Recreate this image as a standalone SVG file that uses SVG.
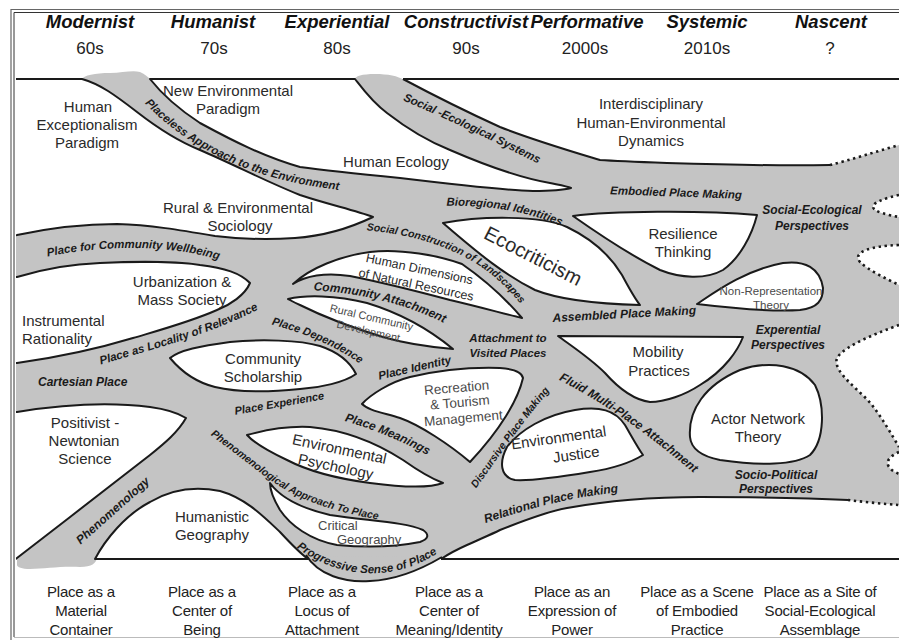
<svg xmlns="http://www.w3.org/2000/svg" width="899" height="640" viewBox="0 0 899 640">
<style>
.hd{font-family:"Liberation Sans",Arial,sans-serif;font-style:italic;font-weight:bold;font-size:18.5px;text-anchor:middle;fill:#111}
.yr{font-family:"Liberation Sans",Arial,sans-serif;font-size:17px;text-anchor:middle;fill:#222}
.ft{font-family:"Liberation Sans",Arial,sans-serif;font-size:15px;letter-spacing:-0.2px;text-anchor:middle;fill:#222}
.rg{font-family:"Liberation Sans",Arial,sans-serif;font-size:15px;text-anchor:middle;fill:#2a2a2a}
.gr{font-family:"Liberation Sans",Arial,sans-serif;text-anchor:middle;fill:#4a4a4a}
.bi{font-family:"Liberation Sans",Arial,sans-serif;font-style:italic;font-weight:bold;font-size:11.5px;fill:#1a1a1a}
.bc{text-anchor:middle}
.isl{fill:#fff;stroke:#1a1a1a;stroke-width:2;stroke-linejoin:round}
.wf{fill:#fff;stroke:none}
.ln{fill:none;stroke:#1a1a1a;stroke-width:2;stroke-linejoin:round}
.dot{fill:none;stroke:#1a1a1a;stroke-width:2.6;stroke-dasharray:2.4 3.6}
.gy{fill:#c4c4c4}
</style>
<defs>
<clipPath id="clipField"><rect x="16" y="0" width="890" height="640"/></clipPath>
<path id="pPlaceless" d="M 140,98 C 165,126 200,150 240,166 S 310,186 346,191"/>
<path id="pSES" d="M 400,99 C 445,118 495,142 541,165"/>
<path id="pBio" d="M 441,206 C 480,205 520,208 566,228"/>
<path id="pSCL" d="M 364,230 C 420,235 482,252 522,306"/>
<path id="pPCW" d="M 40,258 C 100,245 170,243 226,262"/>
<path id="pPLR" d="M 96,366 C 150,350 210,335 263,307"/>
<path id="pPD" d="M 273,325 C 300,332 330,343 359,363"/>
<path id="pCA" d="M 307,290 C 350,292 400,300 450,326"/>
<path id="pPI" d="M 378,380 L 453,363"/>
<path id="pAPM" d="M 551,322 L 698,314"/>
<path id="pFMA" d="M 555,378 C 600,400 650,435 697,476"/>
<path id="pDPM" d="M 475,490 C 495,462 520,425 551,389"/>
<path id="pPE" d="M 234,415 L 326,399"/>
<path id="pPM" d="M 341,420 C 370,428 400,440 431,457"/>
<path id="pPAP" d="M 203,430 C 240,455 265,480 295,495 C 320,507 350,515 387,521"/>
<path id="pPSP" d="M 293,545 C 320,566 350,575 380,573 C 405,571 425,562 441,551"/>
<path id="pRPM" d="M 483,524 C 530,508 570,497 621,492"/>
<path id="pPhen" d="M 78,547 L 153,480"/>
<path id="pEPM" d="M 605,194 L 747,199"/>
</defs>

<!-- outer frame -->
<g id="frame" fill="none">
<path d="M 11,640 V 9.5 H 899" stroke="#666" stroke-width="1.2"/>
<path d="M 14,637 V 12.5 H 899" stroke="#333" stroke-width="1"/>
<path d="M 14,637.5 H 899" stroke="#bbb" stroke-width="1.2"/>
</g>

<!-- column headings -->
<g id="headings">
<text class="hd" x="90" y="28">Modernist</text>
<text class="hd" x="213" y="28">Humanist</text>
<text class="hd" x="337" y="28">Experiential</text>
<text class="hd" x="466" y="28">Constructivist</text>
<text class="hd" x="587" y="28">Performative</text>
<text class="hd" x="707" y="28">Systemic</text>
<text class="hd" x="831" y="28">Nascent</text>
<text class="yr" x="90" y="54">60s</text>
<text class="yr" x="214" y="54">70s</text>
<text class="yr" x="337" y="54">80s</text>
<text class="yr" x="466" y="54">90s</text>
<text class="yr" x="585" y="54">2000s</text>
<text class="yr" x="707" y="54">2010s</text>
<text class="yr" x="830" y="54">?</text>
</g>

<!-- the gray field of place approaches with its white islands -->
<g id="field" clip-path="url(#clipField)">
<rect class="gy" x="14" y="79" width="890" height="480"/>
<path class="gy" d="M 81,80 C 84,75 95,73 110,73 C 122,73 132,70 140,72 C 145,74 148,77 151,80 Z"/>
<path class="gy" d="M 354,80 C 355,76 362,74 375,74 C 388,74 398,76 404,80 Z"/>
<path class="gy" d="M 17,558 L 97,558 C 96,563 92,567 80,567 C 60,566 45,569 30,569 C 22,569 17,567 17,565 Z"/>
<path class="gy" d="M 306,556 C 318,575 345,583 370,581 C 395,580 420,570 442,557 Z"/>
<path class="ln" d="M 306,555 C 318,575 345,583 370,581 C 395,580 420,570 442,557"/>

<g id="humanExceptionalism"><path class="isl" d="M -5,79 L 82,79 C 100,84 115,95 137,112 C 155,126 175,140 200,150 C 235,165 265,181 300,195 C 330,205 355,210 373,217 C 350,228 325,236 295,238 C 265,240 240,239 215,236 C 180,230 150,225 117,224 C 80,224 45,229 17,235 L -5,238 Z"/></g>
<g id="humanEcology"><path class="isl" d="M 150,79 L 355,79 C 362,88 372,102 387,113 C 405,127 425,140 450,150 C 480,163 515,177 550,183 C 560,185 567,186 571,188 C 560,191 545,191 533,191 C 500,190 450,184 400,178 C 360,174 330,171 300,167 C 265,157 235,142 200,123 C 180,110 165,98 150,79 Z"/></g>
<g id="interdisciplinary">
<path class="wf" d="M 403,79 L 905,79 L 905,144 L 899,145 C 875,152 850,160 830,165 C 780,166 700,164 667,163 C 640,162 615,161 600,160 C 567,150 533,140 500,127 C 467,112 433,95 403,79 Z"/>
<path class="ln" d="M 403,79 C 433,95 467,112 500,127 C 533,140 567,150 600,160 C 615,161 640,162 667,163 C 700,164 780,166 830,165"/>
<path class="dot" d="M 830,165 C 850,160 875,152 899,145"/>
</g>
<g id="urbanization"><path class="isl" d="M -5,276 L 17,277 C 40,270 70,264 100,263 C 140,261 180,262 200,265 C 225,268 240,273 250,283 C 245,295 230,305 217,310 C 190,322 160,330 133,338 C 100,348 60,357 17,363 L -5,364 Z"/></g>
<g id="positivist"><path class="isl" d="M -5,412 L 17,412 C 60,405 110,402 150,407 C 165,409 178,413 186,418 C 178,432 165,443 150,455 C 120,478 60,525 17,558 L -5,575 Z"/></g>
<g id="humanisticGeography"><path class="isl" d="M 95,559 C 105,540 125,515 150,502 C 170,490 195,486 220,491 C 245,498 262,515 280,532 C 292,545 300,553 308,559 Z"/></g>
<g id="relationalBelow">
<path class="wf" d="M 442,559 C 450,553 458,549 467,545 C 480,539 490,535 500,530 C 520,522 545,512 567,508 C 600,502 650,497 700,497 C 760,497 810,498 848,500 C 865,502 885,504 899,505 L 905,505 L 905,559 Z"/>
<path class="ln" d="M 441,559 C 450,553 458,549 467,545 C 480,539 490,535 500,530 C 520,522 545,512 567,508 C 600,502 650,497 700,497 C 760,497 810,498 848,500"/>
<path class="dot" d="M 848,500 C 865,502 885,504 899,505"/>
</g>
<g id="communityScholarship"><path class="isl" d="M 170,358 C 180,350 200,346 230,342 C 260,339 300,340 320,346 C 338,352 350,362 356,374 C 345,382 320,388 300,389 C 270,392 240,393 215,387 C 195,382 180,370 170,358 Z"/></g>
<g id="humanDimensions"><path class="isl" d="M 293,284 C 310,268 340,256 370,252 C 400,248 440,256 462,264 C 485,280 505,298 522,318 C 505,314 480,307 450,300 C 420,292 390,284 350,276 C 325,272 305,276 293,284 Z"/></g>
<g id="ruralCommunity"><path class="isl" d="M 288,299 C 305,295 335,295 367,303 C 400,313 430,330 453,349 C 430,347 400,342 383,337 C 350,327 320,315 300,305 C 293,302 290,300 288,299 Z"/></g>
<g id="environmentalPsychology"><path class="isl" d="M 247,435 C 265,430 290,426 310,427 C 345,430 375,442 403,460 C 420,472 435,480 443,483 C 430,488 400,487 370,483 C 340,479 310,472 287,460 C 270,452 255,444 247,435 Z"/></g>
<g id="criticalGeography"><path class="isl" d="M 270,483 C 280,497 300,508 330,515 C 370,521 405,522 423,530 C 430,535 428,539 420,542 C 400,546 370,548 337,545 C 310,540 290,525 280,510 C 274,500 270,490 270,483 Z"/></g>
<g id="recreationTourism"><path class="isl" d="M 362,404 C 370,395 390,382 410,377 C 440,370 470,367 500,368 C 515,369 522,372 523,378 C 518,400 500,430 470,462 C 450,445 420,425 400,418 C 380,412 368,410 362,404 Z"/></g>
<g id="environmentalJustice"><path class="isl" d="M 507,447 C 520,430 545,415 575,410 C 600,406 615,410 625,425 C 632,437 638,448 643,455 C 630,463 610,469 590,472 C 560,477 530,481 515,480 C 500,477 499,462 507,447 Z"/></g>
<g id="mobilityPractices"><path class="isl" d="M 558,336 L 743,337 C 738,350 725,370 700,385 C 685,395 665,402 650,402 C 635,400 620,390 605,373 C 590,358 570,345 558,336 Z"/></g>
<g id="resilienceThinking"><path class="isl" d="M 573,216 C 610,211 700,210 757,215 C 752,235 740,258 723,270 C 705,280 680,278 660,270 C 630,255 600,235 573,216 Z"/></g>
<g id="ecocriticism"><path class="isl" d="M 443,223 C 480,216 540,215 567,227 C 590,238 610,255 622,275 C 630,290 636,300 640,305 C 600,304 560,300 535,290 C 505,275 480,255 443,223 Z"/></g>
<g id="nonRepresentation"><path class="isl" d="M 697,304 C 715,292 745,270 783,263 C 805,260 820,268 823,288 C 823,300 818,308 800,310 C 770,312 730,308 697,304 Z"/></g>
<g id="actorNetwork"><path class="isl" d="M 690,437 C 688,410 705,385 740,370 C 770,360 800,365 815,385 C 825,405 825,440 810,455 C 795,465 760,466 720,460 C 700,456 691,448 690,437 Z"/></g>
<g id="nascentEdges">
<path class="wf" d="M 905,194 L 899,195 C 885,198 872,203 873,207 C 874,212 888,215 899,217 L 905,217 Z"/>
<path class="dot" d="M 899,195 C 885,198 872,203 873,207 C 874,212 888,215 899,217"/>
<path class="wf" d="M 905,245 L 899,245 C 870,246 852,252 860,262 C 868,270 885,278 899,285 L 905,285 Z"/>
<path class="dot" d="M 899,245 C 870,246 852,252 860,262 C 868,270 885,278 899,285"/>
<path class="wf" d="M 905,325 L 899,325 C 880,332 845,345 837,358 C 832,372 860,390 872,405 C 882,418 892,435 899,447 L 905,447 Z"/>
<path class="dot" d="M 899,325 C 880,332 845,345 837,358 C 832,372 860,390 872,405 C 882,418 892,435 899,447"/>
<path class="wf" d="M 905,452 L 899,452 C 892,455 886,460 888,465 C 890,470 895,472 899,474 L 905,474 Z"/>
<path class="dot" d="M 899,452 C 892,455 886,460 888,465 C 890,470 895,472 899,474"/>
</g>
</g>

<!-- timeline rails -->
<g id="rails" class="ln">
<path d="M 17,79 H 82 M 150,79 H 355 M 403,79 H 899"/>
<path d="M 95,559 H 308 M 441,559 H 899"/>
</g>

<!-- paradigm labels -->
<g id="paradigms">
<text class="rg" x="88" y="112">Human</text>
<text class="rg" x="87" y="130">Exceptionalism</text>
<text class="rg" x="87" y="148">Paradigm</text>
<text class="rg" x="228" y="96">New Environmental</text>
<text class="rg" x="228" y="114">Paradigm</text>
<text class="rg" x="396" y="167">Human Ecology</text>
<text class="rg" x="238" y="213">Rural &amp; Environmental</text>
<text class="rg" x="240" y="231">Sociology</text>
<text class="rg" x="651" y="109">Interdisciplinary</text>
<text class="rg" x="651" y="128">Human-Environmental</text>
<text class="rg" x="651" y="146">Dynamics</text>
<text class="rg" x="182" y="287">Urbanization &amp;</text>
<text class="rg" x="182" y="305">Mass Society</text>
<text class="rg" x="22" y="326" style="text-anchor:start">Instrumental</text>
<text class="rg" x="22" y="344" style="text-anchor:start">Rationality</text>
<text class="rg" x="263" y="364">Community</text>
<text class="rg" x="263" y="382">Scholarship</text>
<text class="rg" x="85" y="428">Positivist -</text>
<text class="rg" x="84" y="446">Newtonian</text>
<text class="rg" x="85" y="464">Science</text>
<text class="rg" x="212" y="522">Humanistic</text>
<text class="rg" x="212" y="540">Geography</text>
<text class="rg" x="683" y="239">Resilience</text>
<text class="rg" x="683" y="257">Thinking</text>
<text class="rg" x="658" y="357">Mobility</text>
<text class="rg" x="659" y="376">Practices</text>
<text class="rg" x="758" y="424">Actor Network</text>
<text class="rg" x="758" y="442">Theory</text>
<g transform="translate(418,276) rotate(12)">
<text class="rg" x="0" y="-3" style="font-size:12.5px">Human Dimensions</text>
<text class="rg" x="0" y="13" style="font-size:12.5px">of Natural Resources</text>
</g>
<g transform="translate(370,324) rotate(13)">
<text class="gr" x="0" y="-3" style="font-size:11px">Rural Community</text>
<text class="gr" x="0" y="11" style="font-size:11px">Development</text>
</g>
<g transform="translate(460,404) rotate(-5)">
<text class="gr" x="-2" y="-12" style="font-size:13.5px">Recreation</text>
<text class="gr" x="0" y="3" style="font-size:13.5px">&amp; Tourism</text>
<text class="gr" x="2" y="19" style="font-size:13.5px">Management</text>
</g>
<g transform="translate(338,456) rotate(12)">
<text class="rg" x="0" y="-2">Environmental</text>
<text class="rg" x="0" y="16">Psychology</text>
</g>
<text class="gr" x="318" y="530" style="font-size:13px;text-anchor:start">Critical</text>
<text class="gr" x="337" y="544" style="font-size:13px;text-anchor:start">Geography</text>
<text class="rg" transform="translate(530,262) rotate(27)" style="font-size:20px">Ecocriticism</text>
<g transform="translate(565,447) rotate(-8)">
<text class="rg" x="-5" y="-5">Environmental</text>
<text class="rg" x="10" y="14">Justice</text>
</g>
<text class="gr" x="771" y="295" style="font-size:11.5px">Non-Representation</text>
<text class="gr" x="771" y="309" style="font-size:11.5px">Theory</text>
</g>

<!-- conceptions of place running through the field -->
<g id="placeConcepts" class="bi">
<text><textPath href="#pPlaceless" startOffset="50%" class="bc">Placeless Approach to the Environment</textPath></text>
<text><textPath href="#pSES" startOffset="50%" class="bc">Social -Ecological Systems</textPath></text>
<text><textPath href="#pBio" startOffset="50%" class="bc">Bioregional Identities</textPath></text>
<text style="font-size:10.5px"><textPath href="#pSCL" startOffset="50%" class="bc">Social Construction of Landscapes</textPath></text>
<text><textPath href="#pPCW" startOffset="50%" class="bc">Place for Community Wellbeing</textPath></text>
<text><textPath href="#pPLR" startOffset="50%" class="bc">Place as Locality of Relevance</textPath></text>
<text x="38" y="386" style="font-size:12px">Cartesian Place</text>
<text style="font-size:11px"><textPath href="#pPD" startOffset="50%" class="bc">Place Dependence</textPath></text>
<text style="font-size:12px"><textPath href="#pCA" startOffset="50%" class="bc">Community Attachment</textPath></text>
<text><textPath href="#pPI" startOffset="50%" class="bc">Place Identity</textPath></text>
<text x="508" y="342" class="bc">Attachment to</text>
<text x="508" y="357" class="bc">Visited Places</text>
<text style="font-size:12px"><textPath href="#pAPM" startOffset="50%" class="bc">Assembled Place Making</textPath></text>
<text style="font-size:12px"><textPath href="#pFMA" startOffset="50%" class="bc">Fluid Multi-Place Attachment</textPath></text>
<text style="font-size:10.5px"><textPath href="#pDPM" startOffset="50%" class="bc">Discursive Place Making</textPath></text>
<text style="font-size:11px"><textPath href="#pPE" startOffset="50%" class="bc">Place Experience</textPath></text>
<text style="font-size:12px"><textPath href="#pPM" startOffset="50%" class="bc">Place Meanings</textPath></text>
<text style="font-size:10.5px"><textPath href="#pPAP" startOffset="50%" class="bc">Phenomenological Approach To Place</textPath></text>
<text><textPath href="#pPSP" startOffset="50%" class="bc">Progressive Sense of Place</textPath></text>
<text style="font-size:12px"><textPath href="#pRPM" startOffset="50%" class="bc">Relational Place Making</textPath></text>
<text style="font-size:12px"><textPath href="#pPhen" startOffset="50%" class="bc">Phenomenology</textPath></text>
<text><textPath href="#pEPM" startOffset="50%" class="bc">Embodied Place Making</textPath></text>
<text x="812" y="214" class="bc" style="font-size:12px">Social-Ecological</text>
<text x="812" y="230" class="bc" style="font-size:12px">Perspectives</text>
<text x="788" y="334" class="bc" style="font-size:12px">Experential</text>
<text x="788" y="349" class="bc" style="font-size:12px">Perspectives</text>
<text x="776" y="479" class="bc" style="font-size:12px">Socio-Political</text>
<text x="776" y="493" class="bc" style="font-size:12px">Perspectives</text>
</g>

<!-- conceptions of place per era -->
<g id="footer">
<text class="ft" x="81" y="597">Place as a</text>
<text class="ft" x="81" y="616">Material</text>
<text class="ft" x="81" y="635">Container</text>
<text class="ft" x="202" y="597">Place as a</text>
<text class="ft" x="202" y="616">Center of</text>
<text class="ft" x="202" y="635">Being</text>
<text class="ft" x="322" y="597">Place as a</text>
<text class="ft" x="322" y="616">Locus of</text>
<text class="ft" x="322" y="635">Attachment</text>
<text class="ft" x="449" y="597">Place as a</text>
<text class="ft" x="449" y="616">Center of</text>
<text class="ft" x="449" y="635">Meaning/Identity</text>
<text class="ft" x="572" y="597">Place as an</text>
<text class="ft" x="572" y="616">Expression of</text>
<text class="ft" x="572" y="635">Power</text>
<text class="ft" x="697" y="597">Place as a Scene</text>
<text class="ft" x="697" y="616">of Embodied</text>
<text class="ft" x="697" y="635">Practice</text>
<text class="ft" x="820" y="597">Place as a Site of</text>
<text class="ft" x="820" y="616">Social-Ecological</text>
<text class="ft" x="820" y="635">Assemblage</text>
</g>
</svg>
